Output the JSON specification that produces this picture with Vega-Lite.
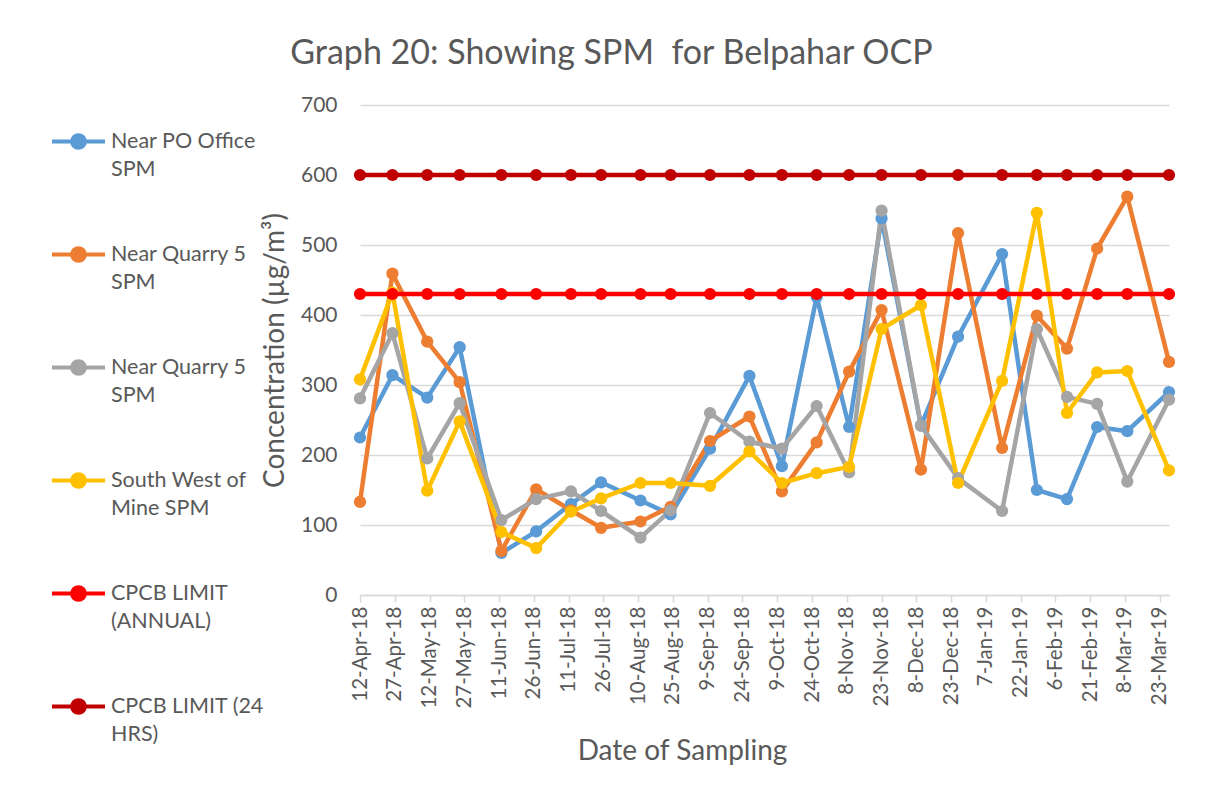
{
  "$schema": "https://vega.github.io/schema/vega-lite/v6.json",
  "width": 809,
  "height": 490,
  "autosize": "none",
  "padding": {"left": 360, "top": 105, "right": 40, "bottom": 197},
  "background": "white",
  "title": {
    "text": "Graph 20: Showing SPM \u00a0for Belpahar OCP",
    "anchor": "middle",
    "frame": "group",
    "dx": -153,
    "dy": 36,
    "font": "Lato",
    "fontSize": 34,
    "fontWeight": "normal",
    "color": "#595959",
    "baseline": "alphabetic",
    "offset": 32
  },
  "data": {
    "values": [
      {"date": "2018-04-12", "Near PO Office SPM": 225, "Near Quarry 5 SPM": 133, "Near Quarry 5 SPM ": 281, "South West of Mine SPM": 308, "CPCB LIMIT (ANNUAL)": 430, "CPCB LIMIT (24 HRS)": 600},
      {"date": "2018-04-26", "Near PO Office SPM": 314, "Near Quarry 5 SPM": 459, "Near Quarry 5 SPM ": 374, "South West of Mine SPM": 432, "CPCB LIMIT (ANNUAL)": 430, "CPCB LIMIT (24 HRS)": 600},
      {"date": "2018-05-11", "Near PO Office SPM": 282, "Near Quarry 5 SPM": 362, "Near Quarry 5 SPM ": 195, "South West of Mine SPM": 149, "CPCB LIMIT (ANNUAL)": 430, "CPCB LIMIT (24 HRS)": 600},
      {"date": "2018-05-25", "Near PO Office SPM": 354, "Near Quarry 5 SPM": 304, "Near Quarry 5 SPM ": 274, "South West of Mine SPM": 248, "CPCB LIMIT (ANNUAL)": 430, "CPCB LIMIT (24 HRS)": 600},
      {"date": "2018-06-12", "Near PO Office SPM": 60, "Near Quarry 5 SPM": 63, "Near Quarry 5 SPM ": 107, "South West of Mine SPM": 90, "CPCB LIMIT (ANNUAL)": 430, "CPCB LIMIT (24 HRS)": 600},
      {"date": "2018-06-27", "Near PO Office SPM": 91, "Near Quarry 5 SPM": 151, "Near Quarry 5 SPM ": 137, "South West of Mine SPM": 67, "CPCB LIMIT (ANNUAL)": 430, "CPCB LIMIT (24 HRS)": 600},
      {"date": "2018-07-12", "Near PO Office SPM": 130, "Near Quarry 5 SPM": 121, "Near Quarry 5 SPM ": 148, "South West of Mine SPM": 119, "CPCB LIMIT (ANNUAL)": 430, "CPCB LIMIT (24 HRS)": 600},
      {"date": "2018-07-25", "Near PO Office SPM": 161, "Near Quarry 5 SPM": 96, "Near Quarry 5 SPM ": 120, "South West of Mine SPM": 138, "CPCB LIMIT (ANNUAL)": 430, "CPCB LIMIT (24 HRS)": 600},
      {"date": "2018-08-11", "Near PO Office SPM": 135, "Near Quarry 5 SPM": 105, "Near Quarry 5 SPM ": 82, "South West of Mine SPM": 160, "CPCB LIMIT (ANNUAL)": 430, "CPCB LIMIT (24 HRS)": 600},
      {"date": "2018-08-24", "Near PO Office SPM": 115, "Near Quarry 5 SPM": 126, "Near Quarry 5 SPM ": 121, "South West of Mine SPM": 160, "CPCB LIMIT (ANNUAL)": 430, "CPCB LIMIT (24 HRS)": 600},
      {"date": "2018-09-10", "Near PO Office SPM": 209, "Near Quarry 5 SPM": 220, "Near Quarry 5 SPM ": 260, "South West of Mine SPM": 156, "CPCB LIMIT (ANNUAL)": 430, "CPCB LIMIT (24 HRS)": 600},
      {"date": "2018-09-27", "Near PO Office SPM": 313, "Near Quarry 5 SPM": 255, "Near Quarry 5 SPM ": 219, "South West of Mine SPM": 205, "CPCB LIMIT (ANNUAL)": 430, "CPCB LIMIT (24 HRS)": 600},
      {"date": "2018-10-11", "Near PO Office SPM": 184, "Near Quarry 5 SPM": 148, "Near Quarry 5 SPM ": 209, "South West of Mine SPM": 160, "CPCB LIMIT (ANNUAL)": 430, "CPCB LIMIT (24 HRS)": 600},
      {"date": "2018-10-26", "Near PO Office SPM": 426, "Near Quarry 5 SPM": 218, "Near Quarry 5 SPM ": 270, "South West of Mine SPM": 174, "CPCB LIMIT (ANNUAL)": 430, "CPCB LIMIT (24 HRS)": 600},
      {"date": "2018-11-09", "Near PO Office SPM": 240, "Near Quarry 5 SPM": 319, "Near Quarry 5 SPM ": 175, "South West of Mine SPM": 183, "CPCB LIMIT (ANNUAL)": 430, "CPCB LIMIT (24 HRS)": 600},
      {"date": "2018-11-23", "Near PO Office SPM": 538, "Near Quarry 5 SPM": 407, "Near Quarry 5 SPM ": 549, "South West of Mine SPM": 380, "CPCB LIMIT (ANNUAL)": 430, "CPCB LIMIT (24 HRS)": 600},
      {"date": "2018-12-10", "Near PO Office SPM": 242, "Near Quarry 5 SPM": 179, "Near Quarry 5 SPM ": 242, "South West of Mine SPM": 414, "CPCB LIMIT (ANNUAL)": 430, "CPCB LIMIT (24 HRS)": 600},
      {"date": "2018-12-26", "Near PO Office SPM": 369, "Near Quarry 5 SPM": 517, "Near Quarry 5 SPM ": 167, "South West of Mine SPM": 160, "CPCB LIMIT (ANNUAL)": 430, "CPCB LIMIT (24 HRS)": 600},
      {"date": "2019-01-14", "Near PO Office SPM": 487, "Near Quarry 5 SPM": 210, "Near Quarry 5 SPM ": 120, "South West of Mine SPM": 306, "CPCB LIMIT (ANNUAL)": 430, "CPCB LIMIT (24 HRS)": 600},
      {"date": "2019-01-29", "Near PO Office SPM": 150, "Near Quarry 5 SPM": 399, "Near Quarry 5 SPM ": 380, "South West of Mine SPM": 546, "CPCB LIMIT (ANNUAL)": 430, "CPCB LIMIT (24 HRS)": 600},
      {"date": "2019-02-11", "Near PO Office SPM": 137, "Near Quarry 5 SPM": 352, "Near Quarry 5 SPM ": 283, "South West of Mine SPM": 260, "CPCB LIMIT (ANNUAL)": 430, "CPCB LIMIT (24 HRS)": 600},
      {"date": "2019-02-24", "Near PO Office SPM": 240, "Near Quarry 5 SPM": 495, "Near Quarry 5 SPM ": 273, "South West of Mine SPM": 318, "CPCB LIMIT (ANNUAL)": 430, "CPCB LIMIT (24 HRS)": 600},
      {"date": "2019-03-09", "Near PO Office SPM": 234, "Near Quarry 5 SPM": 569, "Near Quarry 5 SPM ": 162, "South West of Mine SPM": 320, "CPCB LIMIT (ANNUAL)": 430, "CPCB LIMIT (24 HRS)": 600},
      {"date": "2019-03-27", "Near PO Office SPM": 290, "Near Quarry 5 SPM": 333, "Near Quarry 5 SPM ": 279, "South West of Mine SPM": 178, "CPCB LIMIT (ANNUAL)": 430, "CPCB LIMIT (24 HRS)": 600}
    ]
  },
  "transform": [
    {"fold": ["Near PO Office SPM", "Near Quarry 5 SPM", "Near Quarry 5 SPM ", "South West of Mine SPM", "CPCB LIMIT (ANNUAL)", "CPCB LIMIT (24 HRS)"], "as": ["series", "value"]}
  ],
  "encoding": {
    "x": {
      "field": "date",
      "type": "temporal",
      "scale": {"type": "utc", "domain": [1523491200000, 1553644800000], "nice": false},
      "axis": {
        "values": [1523491200000, 1524787200000, 1526083200000, 1527379200000, 1528675200000, 1529971200000, 1531267200000, 1532563200000, 1533859200000, 1535155200000, 1536451200000, 1537747200000, 1539043200000, 1540339200000, 1541635200000, 1542931200000, 1544227200000, 1545523200000, 1546819200000, 1548115200000, 1549411200000, 1550707200000, 1552003200000, 1553299200000],
        "format": "%-d-%b-%y",
        "labelAngle": -90,
        "labelAlign": "right",
        "labelBaseline": "middle",
        "labelFont": "Lato",
        "labelFontSize": 20.5,
        "labelColor": "#595959",
        "labelPadding": 4,
        "labelOverlap": false,
        "labelFlush": false,
        "grid": false,
        "domainColor": "#d9d9d9",
        "domainWidth": 1.5,
        "tickColor": "#d9d9d9",
        "tickWidth": 1.5,
        "tickSize": 7,
        "title": "Date of Sampling",
        "titleFont": "Lato",
        "titleFontSize": 28,
        "titleFontWeight": "normal",
        "titleColor": "#595959",
        "titleX": 322,
        "titleY": 164,
        "titleAlign": "center",
        "titleBaseline": "alphabetic"
      }
    },
    "y": {
      "field": "value",
      "type": "quantitative",
      "scale": {"domain": [0, 700], "nice": false, "zero": true},
      "axis": {
        "values": [0, 100, 200, 300, 400, 500, 600, 700],
        "domain": false,
        "ticks": false,
        "gridColor": "#d9d9d9",
        "gridWidth": 1.5,
        "labelFont": "Lato",
        "labelFontSize": 21,
        "labelColor": "#595959",
        "labelPadding": 23,
        "title": "Concentration (µg/m³)",
        "titleFont": "Lato",
        "titleFontSize": 28,
        "titleFontWeight": "normal",
        "titleColor": "#595959",
        "titleX": -85,
        "titleY": 245,
        "titleAngle": -90,
        "titleAlign": "center",
        "titleBaseline": "middle"
      }
    },
    "color": {
      "field": "series",
      "type": "nominal",
      "scale": {
        "domain": ["Near PO Office SPM", "Near Quarry 5 SPM", "Near Quarry 5 SPM ", "South West of Mine SPM", "CPCB LIMIT (ANNUAL)", "CPCB LIMIT (24 HRS)"],
        "range": ["#5B9BD5", "#ED7D31", "#A5A5A5", "#FFC000", "#FF0000", "#C00000"]
      },
      "legend": {
        "orient": "none",
        "legendX": -310,
        "legendY": 8,
        "title": null,
        "padding": 0,
        "symbolType": "M-1,0L1,0M-0.24,0A0.24,0.24,0,1,1,0.24,0A0.24,0.24,0,1,1,-0.24,0Z",
        "symbolSize": 2809,
        "symbolStrokeWidth": 4,
        "labelFont": "Lato",
        "labelFontSize": 21.5,
        "labelColor": "#595959",
        "labelLimit": 400,
        "labelOffset": 4,
        "rowPadding": 46,
        "labelExpr": "datum.label == 'Near PO Office SPM' ? ['Near PO Office','SPM'] : indexof(datum.label,'Near Quarry') == 0 ? ['Near Quarry 5','SPM'] : datum.label == 'South West of Mine SPM' ? ['South West of','Mine SPM'] : datum.label == 'CPCB LIMIT (ANNUAL)' ? ['CPCB LIMIT','(ANNUAL)'] : ['CPCB LIMIT (24','HRS)']",
        "encode": {
          "labels": {"update": {"lineHeight": {"value": 28}, "baseline": {"value": "top"}, "dy": {"value": -11}}},
          "symbols": {"update": {"fill": {"scale": "color", "field": "value"}, "stroke": {"scale": "color", "field": "value"}, "opacity": {"value": 1}}}
        }
      }
    }
  },
  "layer": [
    {
      "transform": [{"filter": {"field": "series", "oneOf": ["Near PO Office SPM", "Near Quarry 5 SPM", "Near Quarry 5 SPM ", "South West of Mine SPM"]}}],
      "mark": {"type": "line", "strokeWidth": 4.5, "strokeJoin": "round", "strokeCap": "round", "point": {"filled": true, "size": 150, "opacity": 1}}
    },
    {
      "transform": [{"filter": {"field": "series", "oneOf": ["CPCB LIMIT (ANNUAL)", "CPCB LIMIT (24 HRS)"]}}],
      "mark": {"type": "line", "strokeWidth": 4.5, "strokeJoin": "round", "strokeCap": "round", "point": {"filled": true, "size": 150, "opacity": 1}}
    }
  ],
  "config": {
    "view": {"stroke": null},
    "font": "Lato"
  }
}
